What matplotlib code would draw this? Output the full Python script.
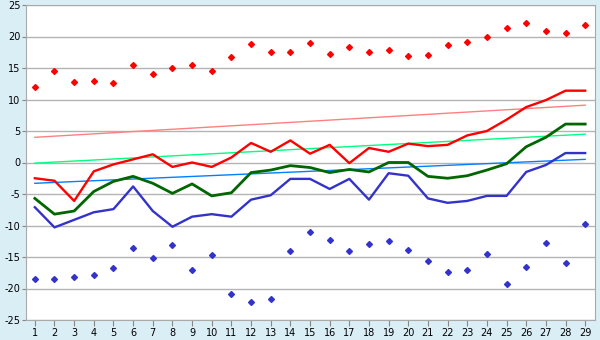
import matplotlib
matplotlib.use("Agg")
import matplotlib.pyplot as plt
import numpy as np

plt.rcParams['axes.unicode_minus'] = False

# days of the month
days = list(range(1, 30))

# extreme max / min (markers)
max_pts = [12.0, 14.5, 12.7, 12.9, 12.6, 15.4, 14.0, 15.0, 15.4, 14.6,
           16.7, 18.8, 17.6, 17.5, 18.9, 17.3, 18.3, 17.5, 17.8, 16.9,
           17.0, 18.6, 19.1, 20.0, 21.3, 22.1, 20.8, 20.5, 21.8]
min_pts = [-18.5, -18.5, -18.1, -17.9, -16.8, -13.6, -15.2, -13.1, -17.0, -14.7,
           -20.8, -22.2, -21.7, -14.1, -11.1, -12.3, -14.1, -13.0, -12.5, -13.9,
           -15.7, -17.4, -17.0, -14.6, -19.3, -16.6, -12.8, -16.0, -9.8]

# daily lines
red_line = [-2.5, -2.9, -6.1, -1.4, -0.3, 0.5, 1.3, -0.7, 0.0, -0.7,
            0.8, 3.1, 1.7, 3.5, 1.4, 2.8, -0.1, 2.3, 1.7, 3.0,
            2.6, 2.8, 4.3, 5.0, 6.8, 8.8, 9.9, 11.4, 11.4]
green_line = [-5.7, -8.2, -7.7, -4.6, -3.0, -2.2, -3.3, -4.9, -3.4, -5.3,
              -4.8, -1.6, -1.2, -0.5, -0.8, -1.6, -1.1, -1.5, 0.0, 0.0,
              -2.2, -2.5, -2.1, -1.2, -0.2, 2.5, 4.0, 6.1, 6.1]
blue_line = [-7.1, -10.3, -9.1, -7.9, -7.4, -3.8, -7.7, -10.2, -8.6, -8.2,
             -8.6, -5.9, -5.2, -2.6, -2.6, -4.2, -2.6, -5.9, -1.7, -2.1,
             -5.7, -6.4, -6.1, -5.3, -5.3, -1.5, -0.4, 1.5, 1.5]

# trend lines (start, end)
trend_days = [1, 29]
red_trend = [4.0, 9.1]
green_trend = [-0.1, 4.5]
blue_trend = [-3.3, 0.5]

bg = "#daeef6"
fig = plt.figure(figsize=(6, 3.4), dpi=100, facecolor=bg)
ax = fig.add_axes([26/600, 20/340, 569/600, 315/340])
ax.set_facecolor("white")

ax.grid(axis="y", color="#b4b4b4", linewidth=1)
ax.set_axisbelow(True)

ax.plot(trend_days, red_trend, color="#ff8080", linewidth=1)
ax.plot(trend_days, green_trend, color="#00ff80", linewidth=1)
ax.plot(trend_days, blue_trend, color="#0080ff", linewidth=1)

ax.plot(days, red_line, color="#ff0000", linewidth=1.7)
ax.plot(days, green_line, color="#006600", linewidth=2)
ax.plot(days, blue_line, color="#3333cc", linewidth=1.7)

ax.plot(days, max_pts, linestyle="none", marker="D", markersize=3, color="#ff0000")
ax.plot(days, min_pts, linestyle="none", marker="D", markersize=3, color="#3333cc")

ax.set_xlim(0.55, 29.5)
ax.set_ylim(-25, 25)
ax.set_xticks(days)
ax.set_yticks(np.arange(-25, 26, 5))
ax.tick_params(axis="both", labelsize=7, length=4, color="#888888", pad=1.5)
ax.tick_params(axis="y", length=3, pad=1)

for s in ax.spines.values():
    s.set_color("#aaaaaa")

fig.savefig("out.png", dpi=100, facecolor=bg)
